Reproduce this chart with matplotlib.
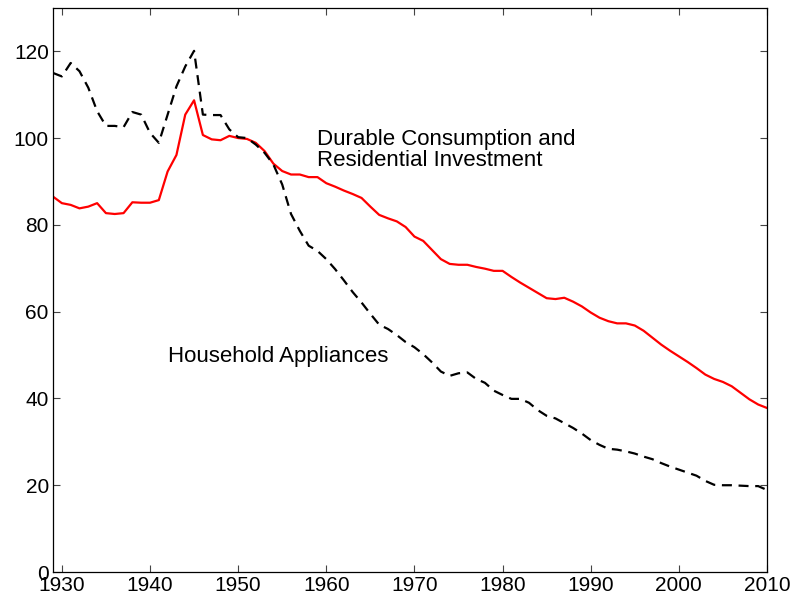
import numpy as np
import matplotlib
matplotlib.use("Agg")
import matplotlib.pyplot as plt

plt.rcParams['font.family'] = ['Liberation Sans', 'DejaVu Sans']

years = np.arange(1929, 2011)

# durable consumption and residential investment (solid red)
durables = [
    86.5, 85.0, 84.6, 83.8, 84.2, 85.0, 82.7, 82.5, 82.7, 85.2,
    85.1, 85.1, 85.7, 92.3, 96.1, 105.4, 108.7, 100.7, 99.7, 99.5,
    100.5, 100.0, 99.8, 98.9, 97.0, 94.1, 92.4, 91.6, 91.6, 91.0,
    91.0, 89.6, 88.8, 87.9, 87.1, 86.2, 84.2, 82.3, 81.5, 80.8,
    79.5, 77.3, 76.3, 74.2, 72.1, 71.0, 70.8, 70.8, 70.3, 69.9,
    69.4, 69.4, 68.0, 66.7, 65.5, 64.3, 63.1, 62.9, 63.2, 62.3,
    61.2, 59.8, 58.6, 57.8, 57.3, 57.3, 56.8, 55.6, 54.0, 52.4,
    51.0, 49.7, 48.4, 47.0, 45.5, 44.5, 43.8, 42.8, 41.3, 39.8,
    38.6, 37.8,
]

# household appliances (dashed black)
appliances = [
    115.0, 114.2, 117.3, 115.4, 111.6, 106.2, 102.8, 102.8, 102.5, 106.0,
    105.4, 101.2, 98.9, 105.4, 111.9, 116.5, 120.1, 105.4, 105.3, 105.3,
    102.0, 100.2, 100.0, 98.5, 96.6, 93.9, 89.3, 82.5, 78.6, 75.2,
    74.0, 72.1, 69.8, 67.2, 64.5, 62.1, 59.5, 57.0, 56.0, 54.6,
    53.0, 51.8, 50.2, 48.3, 46.2, 45.2, 45.8, 46.0, 44.5, 43.6,
    41.8, 40.8, 39.9, 39.9, 39.0, 37.3, 36.0, 35.4, 34.3, 33.2,
    31.9, 30.4, 29.3, 28.4, 28.2, 27.8, 27.3, 26.6, 26.0, 25.1,
    24.3, 23.6, 22.9, 22.2, 21.0, 20.1, 20.0, 20.0, 19.9, 19.8,
    19.8, 18.9,
]

xticks = list(range(1930, 2011, 10))
yticks = list(range(0, 121, 20))

fig = plt.figure(figsize=(7.94, 6.05), dpi=100)
ax = fig.add_axes([0.0668, 0.0545, 0.8992, 0.9325])

ax.plot(years, durables, color='red', lw=1.6)
ax.plot(years, appliances, color='black', lw=1.6, dashes=(4.5, 3))

ax.text(1958.9, 102.1, "Durable Consumption and\nResidential Investment",
        fontsize=16, va='top', ha='left', linespacing=1.0)
ax.text(1942.0, 48.3, "Household Appliances", fontsize=16, va='baseline', ha='left')

ax.set_xlim(1929, 2010)
ax.set_ylim(0, 130)
ax.set_xticks(xticks)
ax.set_yticks(yticks)
ax.tick_params(direction='in', length=5, width=0.8, color='#444444',
               top=True, right=True, labelsize=15, pad=3)
for s in ax.spines.values():
    s.set_linewidth(0.9)

fig.savefig("out.png", dpi=100)
